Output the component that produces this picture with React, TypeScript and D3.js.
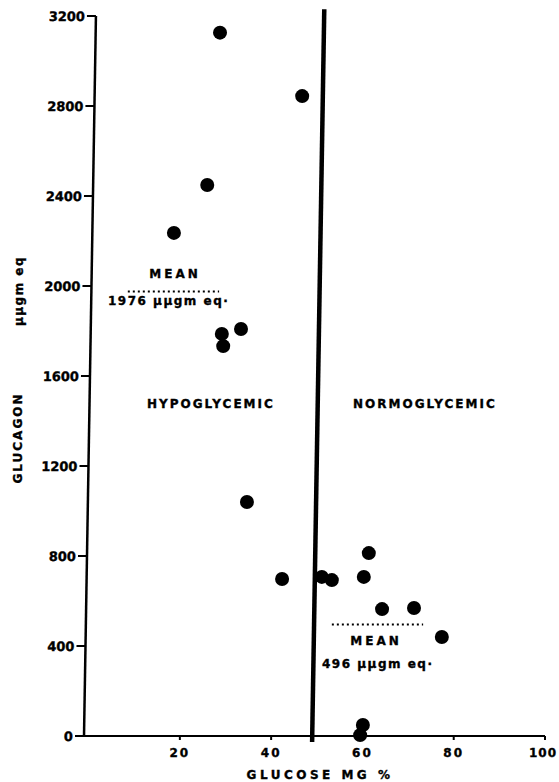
import React from "react";
import * as d3 from "d3";

const glucose = [28.8, 46.8, 26.0, 18.7, 29.2, 33.4, 29.5, 34.7, 42.4, 51.1, 53.3, 60.3, 61.4, 64.3, 71.3, 77.4, 60.1, 59.5];
const glucagon = [3126, 2844, 2449, 2236, 1787, 1809, 1733, 1040, 698, 707, 693, 707, 813, 564, 569, 440, 49, 4];
const xTicks = [20, 40, 60, 80, 100];
const yTicks = [0, 400, 800, 1200, 1600, 2000, 2400, 2800, 3200];
const divider = 49;
const meanHypo = 1976;
const meanNormo = 496;
const meanHypoSpan = [8.6, 28.6];
const meanNormoSpan = [53.3, 73.3];

const W = 559;
const H = 782;
const FONT = "'DejaVu Sans', sans-serif";

export default function App() {
  const x = d3.scaleLinear().domain([-1, 100]).range([84, 545]);
  const y = d3.scaleLinear().domain([0, 3200]).range([736, 16]);
  const y0 = y(0);
  const skew = `translate(0,${y0}) skewX(-0.95) translate(0,${-y0})`;
  const pts = glucose.map((g, i) => ({ g, v: glucagon[i] }));
  const heavy = { stroke: "#000", strokeWidth: 0.35 };

  return (
    <svg width={W} height={H} style={{ position: "absolute", left: 0, top: 0, display: "block", background: "#fff" }}
      fontFamily={FONT} fontWeight="bold">
      <rect x={0} y={0} width={W} height={H} fill="#fff" />
      {/* x axis */}
      <line x1={x(-1)} x2={x(100)} y1={y0} y2={y0} stroke="#000" strokeWidth={2.2} />
      {xTicks.map((t) => (
        <g key={t}>
          <line x1={x(t)} x2={x(t)} y1={y0} y2={y0 + 4} stroke="#000" strokeWidth={2} />
          <text x={t === 100 ? x(t) - 2 : x(t)} y={757} textAnchor="middle" fontSize={12} letterSpacing={t === 100 ? 1 : 2} {...heavy}>{t}</text>
        </g>
      ))}
      <text x={320} y={779} textAnchor="middle" fontSize={12} letterSpacing={3.5} {...heavy}>GLUCOSE  MG %</text>

      {/* y axis (slightly skewed like the scan) */}
      <g transform={skew}>
        <line x1={x(-1)} x2={x(-1)} y1={y(3200)} y2={y0} stroke="#000" strokeWidth={2.5} />
        {yTicks.map((t) => (
          <g key={t}>
            <line x1={x(-1) - 9} x2={x(-1)} y1={y(t)} y2={y(t)} stroke="#000" strokeWidth={2} />
            <text x={x(-1) - 11} y={y(t)} dy="0.36em" textAnchor="end" fontSize={13} {...heavy}>{t}</text>
          </g>
        ))}
        <line x1={x(divider)} x2={x(divider)} y1={y(3230)} y2={y0 + 6} stroke="#000" strokeWidth={4.5} />
      </g>
      <text transform={`translate(22,438) rotate(-90)`} textAnchor="middle" fontSize={12} letterSpacing={2} {...heavy}>GLUCAGON</text>
      <text transform={`translate(23,291) rotate(-90)`} textAnchor="middle" fontSize={12} letterSpacing={1.5} {...heavy}>µµgm eq</text>

      {/* means */}
      <line x1={x(meanHypoSpan[0])} x2={x(meanHypoSpan[1])} y1={y(meanHypo)} y2={y(meanHypo)}
        stroke="#000" strokeWidth={2} strokeDasharray="2,3" />
      <text x={175} y={278} textAnchor="middle" fontSize={12} letterSpacing={3} {...heavy}>MEAN</text>
      <text x={108} y={305} fontSize={12} letterSpacing={1.5} {...heavy}>1976 µµgm eq·</text>

      <line x1={x(meanNormoSpan[0])} x2={x(meanNormoSpan[1])} y1={y(meanNormo)} y2={y(meanNormo)}
        stroke="#000" strokeWidth={2} strokeDasharray="2,3" />
      <text x={376} y={645} textAnchor="middle" fontSize={12} letterSpacing={3} {...heavy}>MEAN</text>
      <text x={322} y={668} fontSize={12} letterSpacing={1.5} {...heavy}>496 µµgm eq·</text>

      <text x={147} y={408} fontSize={12} letterSpacing={2} {...heavy}>HYPOGLYCEMIC</text>
      <text x={353} y={408} fontSize={12} letterSpacing={2} {...heavy}>NORMOGLYCEMIC</text>

      {pts.map((p, i) => (
        <circle key={i} cx={x(p.g)} cy={y(p.v)} r={7} fill="#000" />
      ))}
    </svg>
  );
}
